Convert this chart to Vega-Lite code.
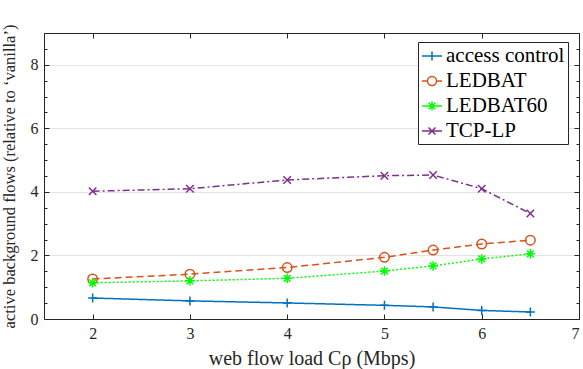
{
  "$schema": "https://vega.github.io/schema/vega-lite/v6.json",
  "autosize": {"type": "none"},
  "width": 535,
  "height": 286,
  "padding": {"left": 44, "top": 33, "right": 4, "bottom": 50},
  "background": "white",
  "config": {
    "view": {"stroke": null},
    "font": "Liberation Serif",
    "axis": {
      "labelFont": "Liberation Serif",
      "titleFont": "Liberation Serif",
      "labelColor": "#262626",
      "titleColor": "#262626",
      "domainColor": "#262626",
      "tickColor": "#262626",
      "titleFontWeight": "normal",
      "labelFontSize": 16,
      "domainWidth": 1,
      "tickWidth": 1
    }
  },
  "data": {
    "values": [
      {"x": 2, "y": 0.66, "series": "access control"},
      {"x": 3, "y": 0.57, "series": "access control"},
      {"x": 4, "y": 0.505, "series": "access control"},
      {"x": 5, "y": 0.43, "series": "access control"},
      {"x": 5.5, "y": 0.38, "series": "access control"},
      {"x": 6, "y": 0.27, "series": "access control"},
      {"x": 6.5, "y": 0.22, "series": "access control"},
      {"x": 2, "y": 1.26, "series": "LEDBAT"},
      {"x": 3, "y": 1.41, "series": "LEDBAT"},
      {"x": 4, "y": 1.62, "series": "LEDBAT"},
      {"x": 5, "y": 1.94, "series": "LEDBAT"},
      {"x": 5.5, "y": 2.17, "series": "LEDBAT"},
      {"x": 6, "y": 2.36, "series": "LEDBAT"},
      {"x": 6.5, "y": 2.48, "series": "LEDBAT"},
      {"x": 2, "y": 1.14, "series": "LEDBAT60"},
      {"x": 3, "y": 1.2, "series": "LEDBAT60"},
      {"x": 4, "y": 1.28, "series": "LEDBAT60"},
      {"x": 5, "y": 1.51, "series": "LEDBAT60"},
      {"x": 5.5, "y": 1.67, "series": "LEDBAT60"},
      {"x": 6, "y": 1.89, "series": "LEDBAT60"},
      {"x": 6.5, "y": 2.05, "series": "LEDBAT60"},
      {"x": 2, "y": 4.02, "series": "TCP-LP"},
      {"x": 3, "y": 4.1, "series": "TCP-LP"},
      {"x": 4, "y": 4.375, "series": "TCP-LP"},
      {"x": 5, "y": 4.51, "series": "TCP-LP"},
      {"x": 5.5, "y": 4.53, "series": "TCP-LP"},
      {"x": 6, "y": 4.1, "series": "TCP-LP"},
      {"x": 6.5, "y": 3.32, "series": "TCP-LP"}
    ]
  },
  "resolve": {"axis": {"x": "independent", "y": "independent"}},
  "layer": [
    {
      "mark": {"type": "line", "strokeWidth": 1.5},
      "encoding": {
        "x": {
          "field": "x", "type": "quantitative",
          "scale": {"domain": [1.5, 7], "nice": false, "zero": false},
          "axis": {
            "orient": "bottom",
            "values": [2, 3, 4, 5, 6, 7],
            "format": "~g",
            "grid": false,
            "tickSize": -5,
            "labelPadding": 11,
            "title": "web flow load Cρ (Mbps)",
            "titleFontSize": 20,
            "titleX": 267.5,
            "titleY": 45,
            "titleAlign": "center",
            "titleBaseline": "alphabetic"
          }
        },
        "y": {
          "field": "y", "type": "quantitative",
          "scale": {"domain": [0, 9], "nice": false},
          "axis": {
            "orient": "left",
            "values": [0, 0.5, 1, 1.5, 2, 2.5, 3, 3.5, 4, 4.5, 5, 5.5, 6, 6.5, 7, 7.5, 8, 8.5, 9],
            "format": "~g",
            "labelExpr": "datum.value % 2 === 0 ? datum.label : ''",
            "grid": true,
            "gridColor": "#e3e3e3",
            "gridOpacity": {"condition": {"test": "datum.value % 2 === 0 && datum.value > 0", "value": 1}, "value": 0},
            "tickSize": {"condition": {"test": "datum.value % 2 === 0", "value": -5}, "value": -3},
            "labelPadding": 11,
            "title": "active background flows (relative to ‘vanilla’)",
            "titleFontSize": 16.5,
            "titleX": -35,
            "titleY": 143,
            "titleAlign": "center",
            "titleBaseline": "middle",
            "titleAngle": -90
          }
        },
        "color": {
          "field": "series", "type": "nominal",
          "scale": {
            "domain": ["access control", "LEDBAT", "LEDBAT60", "TCP-LP"],
            "range": ["#0072BD", "#D95319", "#00FF00", "#7E2F8E"]
          },
          "legend": {
            "orient": "none",
            "legendX": 374,
            "legendY": 9,
            "title": null,
            "strokeColor": "#262626",
            "fillColor": "white",
            "padding": 3,
            "symbolSize": 400,
            "symbolStrokeWidth": 1.5,
            "labelFont": "Liberation Serif",
            "labelFontSize": 21,
            "labelColor": "black",
            "labelOffset": 3,
            "rowPadding": 4,
            "labelLimit": 0,
            "encode": {
              "symbols": {
                "update": {
                  "shape": {"signal": "datum.value === 'access control' ? 'M-1,0L1,0M0,-0.45L0,0.45' : datum.value === 'LEDBAT' ? 'M-1,0L-0.45,0M0.45,0L1,0M0.45,0A0.45,0.45,0,1,1,-0.45,0A0.45,0.45,0,1,1,0.45,0' : datum.value === 'LEDBAT60' ? 'M-1,0L1,0M0,-0.45L0,0.45M-0.32,-0.32L0.32,0.32M-0.32,0.32L0.32,-0.32' : 'M-1,0L1,0M-0.35,-0.35L0.35,0.35M-0.35,0.35L0.35,-0.35'"},
                  "fill": {"value": "transparent"},
                  "strokeWidth": {"value": 1.5},
                  "opacity": {"value": 1}
                }
              }
            }
          }
        },
        "strokeDash": {
          "condition": [
            {"test": "datum.series === 'LEDBAT'", "value": [7, 4]},
            {"test": "datum.series === 'LEDBAT60'", "value": [2, 2]},
            {"test": "datum.series === 'TCP-LP'", "value": [7, 3, 2, 3]}
          ],
          "value": [1, 0]
        }
      }
    },
    {
      "mark": {"type": "point", "filled": false, "size": 100, "strokeWidth": 1.5, "opacity": 1},
      "encoding": {
        "x": {
          "field": "x", "type": "quantitative",
          "axis": {
            "orient": "top",
            "values": [2, 3, 4, 5, 6, 7],
            "labels": false,
            "grid": false,
            "tickSize": -5,
            "title": null
          }
        },
        "y": {
          "field": "y", "type": "quantitative",
          "axis": {
            "orient": "right",
            "values": [0, 0.5, 1, 1.5, 2, 2.5, 3, 3.5, 4, 4.5, 5, 5.5, 6, 6.5, 7, 7.5, 8, 8.5, 9],
            "labels": false,
            "grid": false,
            "tickSize": {"condition": {"test": "datum.value % 2 === 0", "value": -5}, "value": -3},
            "title": null
          }
        },
        "color": {"field": "series", "type": "nominal"},
        "shape": {
          "condition": [
            {"test": "datum.series === 'access control'", "value": "M-0.9,0L0.9,0M0,-0.9L0,0.9"},
            {"test": "datum.series === 'LEDBAT'", "value": "M0.95,0A0.95,0.95,0,1,1,-0.95,0A0.95,0.95,0,1,1,0.95,0"},
            {"test": "datum.series === 'LEDBAT60'", "value": "M-0.95,0L0.95,0M0,-0.95L0,0.95M-0.67,-0.67L0.67,0.67M-0.67,0.67L0.67,-0.67"}
          ],
          "value": "M-0.75,-0.75L0.75,0.75M-0.75,0.75L0.75,-0.75"
        }
      }
    }
  ]
}
